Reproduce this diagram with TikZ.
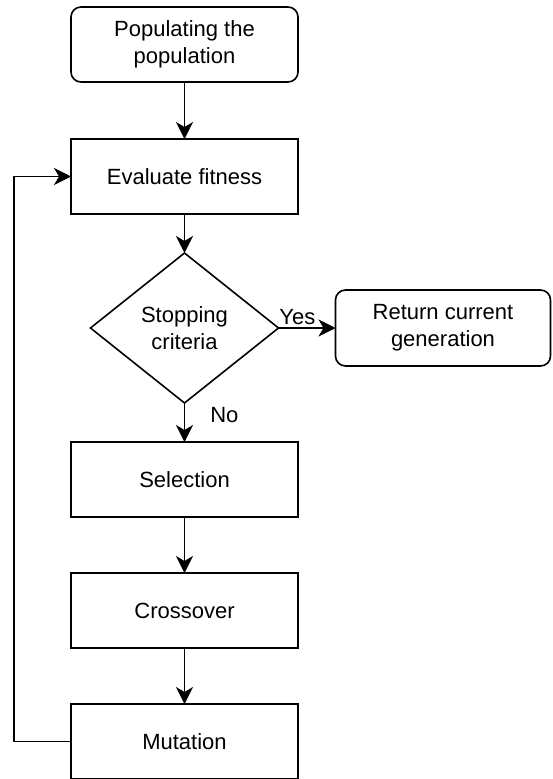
\documentclass[tikz,border=0pt]{standalone}
\usepackage{fontspec}
\setmainfont{Liberation Sans}
\usepackage{tikz}
\usetikzlibrary{shapes,arrows}
\usetikzlibrary{shapes.geometric}
\usetikzlibrary{positioning}
\usetikzlibrary{arrows.meta}
\tikzset{line/.style={draw, line width=1.6pt, -{Stealth[length=17pt,width=17pt,inset=5pt]}}}
\begin{document}
\begin{tikzpicture}[%
      auto,
      every node/.style={font=\fontsize{22}{27}\selectfont},
      block/.style={draw, line width=1.6pt, rectangle,
      minimum width=227pt, minimum height=75pt, outer sep=0pt, align=center},
      roundblock/.style={block, rounded corners=10pt},
      decision/.style={draw, line width=1.6pt, diamond, align=center,
      minimum width=188pt, minimum height=150pt, inner sep=0pt, outer sep=0pt},
      lbl/.style={inner sep=2pt}]
    \useasboundingbox (0,0) rectangle (552pt,-779pt);
    \node [roundblock] (pop) at (184.5pt,-44.5pt) {Populating the\\population};
    \node [block, below=57pt of pop] (eval) {Evaluate fitness};
    \node [decision, below=39pt of eval] (stop) {Stopping\\criteria};
    \node [roundblock, right=57pt of stop, minimum width=215pt, minimum height=76pt] (ret) {Return current\\generation};
    \node [block, below=39pt of stop] (sel) {Selection};
    \node [block, below=56pt of sel] (cross) {Crossover};
    \node [block, below=56pt of cross] (mut) {Mutation};
    %% Flow
    \path [line] (pop) -- (eval);
    \path [line] (eval) -- (stop);
    \path [line] (stop) -- node [lbl, pos=0.33, above] {Yes} (ret);
    \path [line] (stop) -- node [lbl, pos=0.3, right=23pt] {No} (sel);
    \path [line] (sel) -- (cross);
    \path [line] (cross) -- (mut);
    %% Loop back
    \path [line] (mut.west) -- ++(-57pt,0) |- (eval.west);
  \end{tikzpicture}
\end{document}
